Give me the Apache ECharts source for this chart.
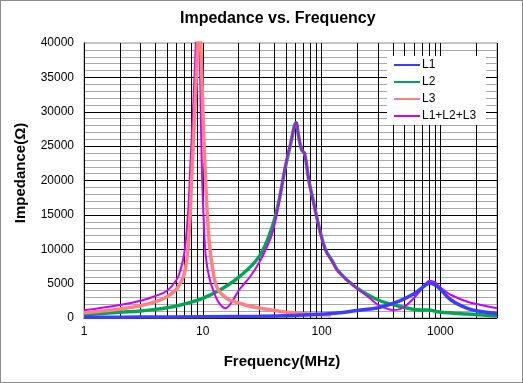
<!DOCTYPE html>
<html>
<head>
<meta charset="utf-8">
<script src="https://cdn.jsdelivr.net/npm/echarts@6/dist/echarts.min.js"></script>
<style>
html,body{margin:0;padding:0;background:#fff;}
#c{width:523px;height:383px;box-sizing:border-box;border:1px solid #8c8c8c;}
</style>
</head>
<body>
<div id="c"></div>
<script>
// ---- data ----
const titleText = "Impedance vs. Frequency";
const xName = "Frequency(MHz)";
const yName = "Impedance(Ω)";
const seriesNames = ["L1", "L2", "L3", "L1+L2+L3"];

const freqL1 = [1, 3, 10, 30, 60, 100, 150, 200, 300, 440, 610, 720, 815, 900, 1000, 1230, 1690, 2200, 3000];
const impL1  = [100, 130, 180, 260, 380, 540, 800, 1100, 1500, 2370, 3590, 4550, 5040, 4800, 4200, 2620, 1410, 950, 650];

const freqL2 = [1, 2, 3, 4, 5, 6, 8, 10, 14, 20, 30, 38.5, 44, 49, 55, 61, 64, 68, 72, 78, 86, 96, 108, 122, 140, 190, 300, 470, 690, 800, 950, 1300, 1700, 2300, 3000];
const impL2  = [480, 830, 1020, 1260, 1500, 1745, 2300, 2850, 4100, 5900, 9000, 13300, 17200, 21500, 25400, 28400, 26500, 24450, 23900, 20100, 16700, 13000, 9900, 8400, 6700, 4600, 2620, 1650, 1160, 1160, 920, 700, 580, 420, 290];

const freqL3 = [1, 1.5, 2, 3, 4, 5, 6, 7, 7.6, 8.1, 8.6, 9.0, 9.35, 9.7, 10.0, 10.5, 11.3, 12.2, 13.3, 16, 17.6, 20, 24.5, 30, 47, 70, 100, 120];
const impL3  = [770, 1050, 1310, 1790, 2370, 3100, 4200, 6500, 11300, 21000, 30700, 38500, 45000, 38000, 30700, 21000, 11300, 6800, 4300, 2800, 2500, 2200, 1745, 1450, 920, 650, 500, 440];

const freqSum = [1, 2, 3, 4, 5, 6, 6.5, 7, 7.5, 7.8, 8.3, 8.7, 9.05, 9.4, 9.6, 9.85, 10.2, 10.6, 11.3, 12.5, 13.7, 15.5, 17.6, 20.2, 25, 29.6, 34, 38.5, 43.7, 48.7, 54.6, 61.4, 64, 68.3, 72, 78, 85.5, 95.6, 107.5, 122, 138, 191, 250, 300, 350, 400, 450, 500, 570, 650, 730, 815, 900, 950, 1100, 1230, 1690, 2200, 3000];
const impSum  = [1120, 1890, 2520, 3200, 3970, 5530, 7000, 9500, 15000, 21000, 30700, 39000, 46000, 39000, 30700, 21000, 14000, 9000, 6000, 3600, 2200, 1420, 2370, 4070, 6000, 7950, 10000, 12320, 16680, 21530, 25400, 28400, 26500, 24430, 23950, 20070, 16680, 13050, 9890, 8300, 6740, 4560, 3000, 1890, 1400, 1160, 1250, 1650, 2500, 3590, 4700, 5430, 5200, 4800, 3900, 3345, 2370, 1900, 1410];

const xMajorTicks = [1, 10, 100, 1000];
const xMinorGrid = [2,3,4,5,6,7,8,9,20,30,40,50,60,70,80,90,200,300,400,500,600,700,800,900,2000];
const yTickStep = 5000;
const yMax = 40000;

// ---- chart ----
const pair = (fs, vs) => fs.map((f, i) => [f, vs[i]]);
const font = "'Liberation Sans', Arial, sans-serif";
const chart = echarts.init(document.getElementById('c'), null, {renderer: 'canvas'});

const mk = (name, fs, vs, color, width, z) => ({
  name, type: 'line', data: pair(fs, vs), showSymbol: false, symbol: 'none',
  smooth: 0.4, clip: true, z,
  lineStyle: {color, width}, itemStyle: {color}, animation: false
});

chart.setOption({
  animation: false,
  backgroundColor: '#fff',
  title: {
    text: titleText, left: 179, top: 10, padding: 0,
    textStyle: {fontFamily: font, fontSize: 16, fontWeight: 'bold', color: '#000'}
  },
  legend: {
    data: seriesNames, orient: 'vertical', left: 386, top: 55,
    backgroundColor: '#fff', padding: [3, 10, 3, 6], itemGap: 5,
    itemWidth: 26, itemHeight: 13,
    itemStyle: {opacity: 0},
    textStyle: {fontFamily: font, fontSize: 12, color: '#000', padding: [0,0,0,-3]}
  },
  grid: {left: 83, right: 25, top: 42, bottom: 64, show: true, borderColor: '#8c8c8c', borderWidth: 1, backgroundColor: 'transparent'},
  xAxis: {
    type: 'log', logBase: 10, min: 1, max: 3000,
    name: xName, nameLocation: 'middle', nameGap: 36,
    nameTextStyle: {fontFamily: font, fontSize: 15, fontWeight: 'bold', color: '#000', padding: [0, 17, 0, 0]},
    axisLine: {lineStyle: {color: '#000', width: 1}},
    axisTick: {show: false},
    axisLabel: {fontFamily: font, fontSize: 12, color: '#000', margin: 8, showMaxLabel: false,
      formatter: v => { const r = Math.round(v); return xMajorTicks.indexOf(r) >= 0 ? String(r) : ''; }},
    splitLine: {show: true, lineStyle: {color: '#000', width: 1}}
  },
  yAxis: {
    type: 'value', min: 0, max: yMax, interval: yTickStep,
    name: yName, nameLocation: 'middle', nameGap: 56,
    nameTextStyle: {fontFamily: font, fontSize: 15, fontWeight: 'bold', color: '#000', padding: [0, 0, 0, 15]},
    axisLine: {show: true, lineStyle: {color: '#000', width: 1}},
    axisTick: {show: false},
    axisLabel: {fontFamily: font, fontSize: 12, color: '#000', margin: 10, formatter: v => String(v)},
    splitLine: {show: true, showMaxLine: false, lineStyle: {color: '#000', width: 1}},
    minorTick: {show: false, splitNumber: 5},
    minorSplitLine: {show: true, lineStyle: {color: '#a8a8a8', width: 1}}
  },
  series: [
    mk(seriesNames[0], freqL1, impL1, '#3c3cff', 3.5, 6),
    mk(seriesNames[1], freqL2, impL2, '#00a651', 3.5, 3),
    mk(seriesNames[2], freqL3, impL3, '#ff8080', 3.5, 5),
    mk(seriesNames[3], freqSum, impSum, '#cc00ff', 2, 4),
    {
      type: 'line', data: [], silent: true, z: 1,
      markLine: {
        silent: true, symbol: ['none', 'none'], animation: false, z: 1,
        label: {show: false},
        lineStyle: {color: '#000', width: 1, type: 'solid'},
        data: xMinorGrid.map(v => ({xAxis: v}))
      }
    }
  ]
});
</script>
</body>
</html>
